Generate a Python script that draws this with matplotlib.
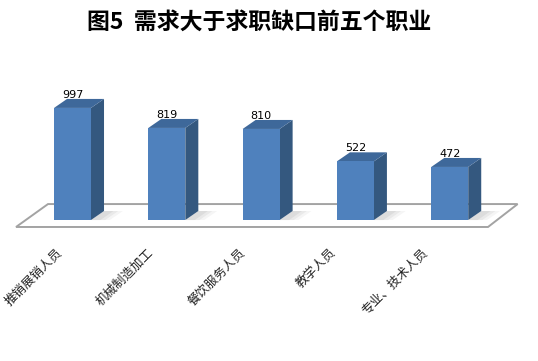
import numpy as np
import matplotlib
matplotlib.use("Agg")
import matplotlib.pyplot as plt
from matplotlib.patches import Polygon

plt.rcParams['font.family'] = ['Noto Sans CJK SC', 'DejaVu Sans']

# ─── data ─────────────────────────────────────────────────────────────────────
title = "图5  需求大于求职缺口前五个职业"
categories = ["推销展销人员", "机械制造加工", "餐饮服务人员", "教学人员", "专业、技术人员"]
values = [997, 819, 810, 522, 472]

# ─── 3D-ish geometry (in data units) ──────────────────────────────────────────
HALF_W = 0.196      # half width of bar front face (category units)
DX, DY = 0.138, 80  # depth offset of bar (category units, value units)
FRONT_C = "#4F81BD"
SIDE_C = "#34587F"
TOP_C = "#3E689A"

fig = plt.figure(figsize=(5.38, 3.61), dpi=100)
ax = fig.add_axes([0, 0, 1, 1])
ax.set_xlim(-0.769, 4.936)
ax.set_ylim(-1254, 1957)
ax.axis("off")

# floor
floor = Polygon([(-0.599, -62), (4.406, -62), (4.72, 142), (-0.26, 142)],
                closed=True, facecolor="white", edgecolor="#a3a3a3",
                linewidth=1.4, zorder=1)
ax.add_patch(floor)

for i, v in enumerate(values):
    x0, x1 = i - HALF_W, i + HALF_W
    # soft shadow on the floor
    for k, a in enumerate([0.08, 0.10, 0.12]):
        ext = 0.2 - 0.05 * k
        ax.add_patch(Polygon([(x1, 0), (x1 + ext, 0), (x1 + ext + DX, DY),
                              (x1 + DX, DY)], closed=True,
                             facecolor="#808080", edgecolor="none",
                             alpha=a, zorder=2))
    # side face
    ax.add_patch(Polygon([(x1, 0), (x1 + DX, DY), (x1 + DX, v + DY), (x1, v)],
                         closed=True, facecolor=SIDE_C, edgecolor="none", zorder=3))
    # top face
    ax.add_patch(Polygon([(x0, v), (x1, v), (x1 + DX, v + DY), (x0 + DX, v + DY)],
                         closed=True, facecolor=TOP_C, edgecolor="none", zorder=3))
    # front face
    ax.add_patch(Polygon([(x0, 0), (x1, 0), (x1, v), (x0, v)],
                         closed=True, facecolor=FRONT_C, edgecolor="none", zorder=4))
    # value label
    ax.text(i, v + DY - 10, str(v), ha="center", va="bottom",
            fontsize=8, family=["DejaVu Sans"], color="black", zorder=5)
    # category label
    ax.text(i - 0.13 - 0.032 * i, -270, categories[i], rotation=45,
            rotation_mode="anchor", ha="right", va="center",
            fontsize=9, color="#222222", zorder=5)

fig.text(0.481, 0.938, title, ha="center", va="center",
         fontsize=16.5, fontweight="bold", color="black")

fig.savefig("out.png", dpi=100)
